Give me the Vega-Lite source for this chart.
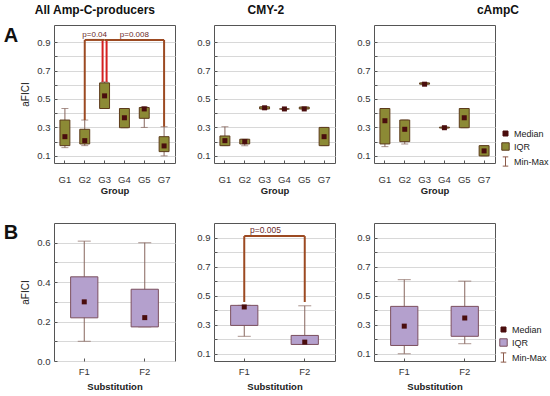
{
  "$schema": "https://vega.github.io/schema/vega-lite/v6.json",
  "padding": {"left": 3, "top": 3, "right": 0, "bottom": 0},
  "spacing": 26,
  "datasets": {
    "A1": [
      {"g": "G1", "min": 0.158, "q1": 0.172, "med": 0.235, "q3": 0.352, "max": 0.433},
      {"g": "G2", "min": 0.172, "q1": 0.184, "med": 0.207, "q3": 0.287, "max": 0.352},
      {"g": "G3", "min": 0.433, "q1": 0.433, "med": 0.522, "q3": 0.613, "max": 0.62},
      {"g": "G4", "min": 0.298, "q1": 0.298, "med": 0.368, "q3": 0.433, "max": 0.433},
      {"g": "G5", "min": 0.3, "q1": 0.364, "med": 0.43, "q3": 0.44, "max": 0.445},
      {"g": "G7", "min": 0.1, "q1": 0.13, "med": 0.17, "q3": 0.235, "max": 0.305}
    ],
    "A2": [
      {"g": "G1", "min": 0.172, "q1": 0.172, "med": 0.207, "q3": 0.24, "max": 0.305},
      {"g": "G2", "min": 0.172, "q1": 0.184, "med": 0.2, "q3": 0.217, "max": 0.217},
      {"g": "G3", "min": 0.43, "q1": 0.43, "med": 0.438, "q3": 0.445, "max": 0.445},
      {"g": "G4", "min": 0.43, "q1": 0.43, "med": 0.43, "q3": 0.43, "max": 0.43},
      {"g": "G5", "min": 0.43, "q1": 0.43, "med": 0.43, "q3": 0.443, "max": 0.443},
      {"g": "G7", "min": 0.172, "q1": 0.172, "med": 0.235, "q3": 0.3, "max": 0.3}
    ],
    "A3": [
      {"g": "G1", "min": 0.165, "q1": 0.184, "med": 0.347, "q3": 0.433, "max": 0.433},
      {"g": "G2", "min": 0.184, "q1": 0.2, "med": 0.287, "q3": 0.352, "max": 0.352},
      {"g": "G3", "min": 0.604, "q1": 0.604, "med": 0.604, "q3": 0.613, "max": 0.613},
      {"g": "G4", "min": 0.296, "q1": 0.296, "med": 0.298, "q3": 0.302, "max": 0.302},
      {"g": "G5", "min": 0.298, "q1": 0.298, "med": 0.368, "q3": 0.433, "max": 0.433},
      {"g": "G7", "min": 0.1, "q1": 0.1, "med": 0.135, "q3": 0.172, "max": 0.172}
    ],
    "B1": [
      {"g": "F1", "min": 0.1, "q1": 0.219, "med": 0.3, "q3": 0.427, "max": 0.608},
      {"g": "F2", "min": 0.173, "q1": 0.173, "med": 0.22, "q3": 0.364, "max": 0.6}
    ],
    "B2": [
      {"g": "F1", "min": 0.22, "q1": 0.295, "med": 0.422, "q3": 0.433, "max": 0.433},
      {"g": "F2", "min": 0.164, "q1": 0.164, "med": 0.18, "q3": 0.226, "max": 0.43}
    ],
    "B3": [
      {"g": "F1", "min": 0.1, "q1": 0.157, "med": 0.29, "q3": 0.426, "max": 0.61},
      {"g": "F2", "min": 0.169, "q1": 0.22, "med": 0.346, "q3": 0.426, "max": 0.6}
    ],
    "A1legs": [
      {"g": "G2", "y": 0.352, "y2": 0.915},
      {"g": "G7", "y": 0.305, "y2": 0.915}
    ],
    "A1red": [
      {"g": "G3", "y": 0.62, "y2": 0.915}
    ],
    "A1bars": [
      {"g": "G2", "g2": "G3", "y": 0.915},
      {"g": "G3", "g2": "G7", "y": 0.915}
    ],
    "A1text": [
      {"g": "G2", "y": 0.915, "t": "p=0.04"},
      {"g": "G4", "y": 0.915, "t": "p=0.008"}
    ],
    "B2legs": [
      {"g": "F1", "y": 0.456, "y2": 0.91},
      {"g": "F2", "y": 0.456, "y2": 0.91}
    ],
    "B2bars": [
      {"g": "F1", "g2": "F2", "y": 0.91}
    ],
    "B2text": [
      {"g": "F1", "y": 0.91, "t": "p=0.005"}
    ],
    "keysA": [{"kA": "Median"}, {"kA": "IQR"}, {"kA": "Min-Max"}],
    "keysB": [{"kB": "Median"}, {"kB": "IQR"}, {"kB": "Min-Max"}]
  },
  "resolve": {"scale": {"fill": "independent", "stroke": "independent", "shape": "independent", "size": "independent"}},
  "vconcat": [
    {
      "title": {"text": "A", "orient": "left", "anchor": "end", "angle": 0, "fontSize": 20, "fontWeight": "bold", "baseline": "top", "align": "left", "offset": 2, "dy": 22, "color": "#111"},
      "spacing": 20,
      "resolve": {"scale": {"fill": "independent", "stroke": "independent", "shape": "independent", "size": "independent"}},
      "hconcat": [
        {
          "width": 121, "height": 138,
          "title": {"text": "All Amp-C-producers", "dx": -3},
          "encoding": {
            "x": {"field": "g", "type": "nominal", "title": "Group",
              "scale": {"domain": ["G1", "G2", "G3", "G4", "G5", "G7"], "paddingInner": 0, "paddingOuter": 0.05},
              "axis": {"labelAngle": 0, "labelPadding": 14, "titlePadding": 2}}
          },
          "layer": [
            {"data": {"name": "A1"}, "mark": {"type": "rule", "color": "#86655c", "strokeWidth": 1},
              "encoding": {"y": {"field": "min", "type": "quantitative", "title": "aFICI",
                "scale": {"domain": [0.05, 1.02], "nice": false, "zero": false},
                "axis": {"values": [0.1, 0.2, 0.3, 0.4, 0.5, 0.6, 0.7, 0.8, 0.9], "tickCount": 20, "format": ".1f", "labelOverlap": false, "labelExpr": "indexof(['0.1','0.3','0.5','0.7','0.9'], datum.label) >= 0 ? datum.label : ''", "titlePadding": 6}},
                "y2": {"field": "max"}}},
            {"data": {"name": "A1"}, "mark": {"type": "tick", "color": "#86655c", "thickness": 1, "size": 7}, "encoding": {"y": {"field": "min", "type": "quantitative"}}},
            {"data": {"name": "A1"}, "mark": {"type": "tick", "color": "#86655c", "thickness": 1, "size": 7}, "encoding": {"y": {"field": "max", "type": "quantitative"}}},
            {"data": {"name": "A1"}, "mark": {"type": "bar", "width": {"band": 0.5}, "fill": "#8c8a35", "stroke": "#5b3a1a", "strokeWidth": 1},
              "encoding": {"y": {"field": "q1", "type": "quantitative"}, "y2": {"field": "q3"}}},
            {"data": {"name": "A1"}, "mark": {"type": "point", "shape": "square", "filled": true, "size": 25, "color": "#4a0d0d", "opacity": 1},
              "encoding": {"y": {"field": "med", "type": "quantitative"}}},
            {"data": {"name": "A1legs"}, "mark": {"type": "rule", "color": "#9c4a22", "strokeWidth": 2},
              "encoding": {"y": {"field": "y", "type": "quantitative"}, "y2": {"field": "y2"}}},
            {"data": {"name": "A1red"}, "mark": {"type": "rule", "color": "#d42020", "strokeWidth": 2, "xOffset": -2},
              "encoding": {"y": {"field": "y", "type": "quantitative"}, "y2": {"field": "y2"}}},
            {"data": {"name": "A1red"}, "mark": {"type": "rule", "color": "#d42020", "strokeWidth": 2, "xOffset": 2},
              "encoding": {"y": {"field": "y", "type": "quantitative"}, "y2": {"field": "y2"}}},
            {"data": {"name": "A1bars"}, "mark": {"type": "rule", "color": "#9c4a22", "strokeWidth": 2},
              "encoding": {"x2": {"field": "g2"}, "y": {"field": "y", "type": "quantitative"}}},
            {"data": {"name": "A1text"}, "mark": {"type": "text", "fontSize": 8, "color": "#6b2a2a", "baseline": "bottom", "dy": -1},
              "encoding": {"x": {"field": "g", "type": "nominal", "bandPosition": 1}, "y": {"field": "y", "type": "quantitative"}, "text": {"field": "t"}}}
          ]
        },
        {
          "width": 121, "height": 138,
          "title": {"text": "CMY-2"},
          "encoding": {
            "x": {"field": "g", "type": "nominal", "title": "Group",
              "scale": {"domain": ["G1", "G2", "G3", "G4", "G5", "G7"], "paddingInner": 0, "paddingOuter": 0.05},
              "axis": {"labelAngle": 0, "labelPadding": 14, "titlePadding": 2}}
          },
          "layer": [
            {"data": {"name": "A2"}, "mark": {"type": "rule", "color": "#86655c", "strokeWidth": 1},
              "encoding": {"y": {"field": "min", "type": "quantitative", "title": null,
                "scale": {"domain": [0.05, 1.02], "nice": false, "zero": false},
                "axis": {"values": [0.1, 0.2, 0.3, 0.4, 0.5, 0.6, 0.7, 0.8, 0.9], "tickCount": 20, "format": ".1f", "labelOverlap": false, "labelExpr": "indexof(['0.1','0.3','0.5','0.7','0.9'], datum.label) >= 0 ? datum.label : ''"}},
                "y2": {"field": "max"}}},
            {"data": {"name": "A2"}, "mark": {"type": "tick", "color": "#86655c", "thickness": 1, "size": 7}, "encoding": {"y": {"field": "min", "type": "quantitative"}}},
            {"data": {"name": "A2"}, "mark": {"type": "tick", "color": "#86655c", "thickness": 1, "size": 7}, "encoding": {"y": {"field": "max", "type": "quantitative"}}},
            {"data": {"name": "A2"}, "mark": {"type": "bar", "width": {"band": 0.5}, "fill": "#8c8a35", "stroke": "#5b3a1a", "strokeWidth": 1},
              "encoding": {"y": {"field": "q1", "type": "quantitative"}, "y2": {"field": "q3"}}},
            {"data": {"name": "A2"}, "mark": {"type": "point", "shape": "square", "filled": true, "size": 25, "color": "#4a0d0d", "opacity": 1},
              "encoding": {"y": {"field": "med", "type": "quantitative"}}}
          ]
        },
        {
          "width": 121, "height": 138,
          "title": {"text": "cAmpC", "dx": 45},
          "encoding": {
            "x": {"field": "g", "type": "nominal", "title": "Group",
              "scale": {"domain": ["G1", "G2", "G3", "G4", "G5", "G7"], "paddingInner": 0, "paddingOuter": 0.05},
              "axis": {"labelAngle": 0, "labelPadding": 14, "titlePadding": 2}}
          },
          "layer": [
            {"data": {"name": "A3"}, "mark": {"type": "rule", "color": "#86655c", "strokeWidth": 1},
              "encoding": {"y": {"field": "min", "type": "quantitative", "title": null,
                "scale": {"domain": [0.05, 1.02], "nice": false, "zero": false},
                "axis": {"values": [0.1, 0.2, 0.3, 0.4, 0.5, 0.6, 0.7, 0.8, 0.9], "tickCount": 20, "format": ".1f", "labelOverlap": false, "labelExpr": "indexof(['0.1','0.3','0.5','0.7','0.9'], datum.label) >= 0 ? datum.label : ''"}},
                "y2": {"field": "max"}}},
            {"data": {"name": "A3"}, "mark": {"type": "tick", "color": "#86655c", "thickness": 1, "size": 7}, "encoding": {"y": {"field": "min", "type": "quantitative"}}},
            {"data": {"name": "A3"}, "mark": {"type": "tick", "color": "#86655c", "thickness": 1, "size": 7}, "encoding": {"y": {"field": "max", "type": "quantitative"}}},
            {"data": {"name": "A3"}, "mark": {"type": "bar", "width": {"band": 0.5}, "fill": "#8c8a35", "stroke": "#5b3a1a", "strokeWidth": 1},
              "encoding": {"y": {"field": "q1", "type": "quantitative"}, "y2": {"field": "q3"}}},
            {"data": {"name": "A3"}, "mark": {"type": "point", "shape": "square", "filled": true, "size": 25, "color": "#4a0d0d", "opacity": 1},
              "encoding": {"y": {"field": "med", "type": "quantitative"}}},
            {"data": {"name": "keysA"}, "transform": [{"filter": "false"}],
              "mark": {"type": "point", "filled": true, "strokeWidth": 1, "opacity": 1},
              "encoding": {
                "x": {"value": 0},
                "fill": {"field": "kA", "type": "nominal", "scale": {"domain": ["Median", "IQR", "Min-Max"], "range": ["#4a0d0d", "#8c8a35", "transparent"]},
                  "legend": {"title": null, "orient": "none", "legendX": 126, "legendY": 104, "labelFontSize": 9, "labelColor": "#222", "labelOffset": 3, "rowPadding": 1, "symbolStrokeWidth": 1, "symbolOpacity": 1}},
                "stroke": {"field": "kA", "type": "nominal", "scale": {"domain": ["Median", "IQR", "Min-Max"], "range": ["#4a0d0d", "#5b3a1a", "#8c5a4a"]},
                  "legend": {"title": null, "orient": "none", "legendX": 126, "legendY": 104, "labelFontSize": 9, "labelColor": "#222", "labelOffset": 3, "rowPadding": 1, "symbolStrokeWidth": 1, "symbolOpacity": 1}},
                "shape": {"field": "kA", "type": "nominal", "scale": {"domain": ["Median", "IQR", "Min-Max"], "range": ["square", "square", "M-0.6,-1H0.6M0,-1V1M-0.6,1H0.6"]},
                  "legend": {"title": null, "orient": "none", "legendX": 126, "legendY": 104, "labelFontSize": 9, "labelColor": "#222", "labelOffset": 3, "rowPadding": 1, "symbolStrokeWidth": 1, "symbolOpacity": 1}},
                "size": {"field": "kA", "type": "nominal", "scale": {"domain": ["Median", "IQR", "Min-Max"], "range": [25, 85, 90]},
                  "legend": {"title": null, "orient": "none", "legendX": 126, "legendY": 104, "labelFontSize": 9, "labelColor": "#222", "labelOffset": 3, "rowPadding": 1, "symbolStrokeWidth": 1, "symbolOpacity": 1}}
              }}
          ]
        }
      ]
    },
    {
      "title": {"text": "B", "orient": "left", "anchor": "end", "angle": 0, "fontSize": 20, "fontWeight": "bold", "baseline": "top", "align": "left", "offset": 2, "dy": 0, "color": "#111"},
      "spacing": 20,
      "resolve": {"scale": {"fill": "independent", "stroke": "independent", "shape": "independent", "size": "independent"}},
      "hconcat": [
        {
          "width": 121, "height": 138,
          "encoding": {
            "x": {"field": "g", "type": "nominal", "title": "Substitution",
              "scale": {"domain": ["F1", "F2"], "paddingInner": 0, "paddingOuter": 0},
              "axis": {"labelAngle": 0, "labelPadding": 8, "titlePadding": 6}}
          },
          "layer": [
            {"data": {"name": "B1"}, "mark": {"type": "rule", "color": "#86655c", "strokeWidth": 1},
              "encoding": {"y": {"field": "min", "type": "quantitative", "title": "aFICI",
                "scale": {"domain": [0, 0.7], "nice": false, "zero": false},
                "axis": {"values": [0, 0.1, 0.2, 0.3, 0.4, 0.5, 0.6], "tickCount": 20, "format": ".1f", "labelOverlap": false, "labelExpr": "indexof(['0.0','0.2','0.4','0.6'], datum.label) >= 0 ? datum.label : ''", "titlePadding": 6}},
                "y2": {"field": "max"}}},
            {"data": {"name": "B1"}, "mark": {"type": "tick", "color": "#86655c", "thickness": 1, "size": 13}, "encoding": {"y": {"field": "min", "type": "quantitative"}}},
            {"data": {"name": "B1"}, "mark": {"type": "tick", "color": "#86655c", "thickness": 1, "size": 13}, "encoding": {"y": {"field": "max", "type": "quantitative"}}},
            {"data": {"name": "B1"}, "mark": {"type": "bar", "width": {"band": 0.45}, "fill": "#b4a0cd", "stroke": "#7b4f5e", "strokeWidth": 1},
              "encoding": {"y": {"field": "q1", "type": "quantitative"}, "y2": {"field": "q3"}}},
            {"data": {"name": "B1"}, "mark": {"type": "point", "shape": "square", "filled": true, "size": 25, "color": "#4a0d0d", "opacity": 1},
              "encoding": {"y": {"field": "med", "type": "quantitative"}}}
          ]
        },
        {
          "width": 121, "height": 138,
          "encoding": {
            "x": {"field": "g", "type": "nominal", "title": "Substitution",
              "scale": {"domain": ["F1", "F2"], "paddingInner": 0, "paddingOuter": 0},
              "axis": {"labelAngle": 0, "labelPadding": 8, "titlePadding": 6}}
          },
          "layer": [
            {"data": {"name": "B2"}, "mark": {"type": "rule", "color": "#86655c", "strokeWidth": 1},
              "encoding": {"y": {"field": "min", "type": "quantitative", "title": null,
                "scale": {"domain": [0.05, 1.0], "nice": false, "zero": false},
                "axis": {"values": [0.1, 0.2, 0.3, 0.4, 0.5, 0.6, 0.7, 0.8, 0.9], "tickCount": 20, "format": ".1f", "labelOverlap": false, "labelExpr": "indexof(['0.1','0.3','0.5','0.7','0.9'], datum.label) >= 0 ? datum.label : ''"}},
                "y2": {"field": "max"}}},
            {"data": {"name": "B2"}, "mark": {"type": "tick", "color": "#86655c", "thickness": 1, "size": 13}, "encoding": {"y": {"field": "min", "type": "quantitative"}}},
            {"data": {"name": "B2"}, "mark": {"type": "tick", "color": "#86655c", "thickness": 1, "size": 13}, "encoding": {"y": {"field": "max", "type": "quantitative"}}},
            {"data": {"name": "B2"}, "mark": {"type": "bar", "width": {"band": 0.45}, "fill": "#b4a0cd", "stroke": "#7b4f5e", "strokeWidth": 1},
              "encoding": {"y": {"field": "q1", "type": "quantitative"}, "y2": {"field": "q3"}}},
            {"data": {"name": "B2"}, "mark": {"type": "point", "shape": "square", "filled": true, "size": 25, "color": "#4a0d0d", "opacity": 1},
              "encoding": {"y": {"field": "med", "type": "quantitative"}}},
            {"data": {"name": "B2legs"}, "mark": {"type": "rule", "color": "#9c4a22", "strokeWidth": 2},
              "encoding": {"y": {"field": "y", "type": "quantitative"}, "y2": {"field": "y2"}}},
            {"data": {"name": "B2bars"}, "mark": {"type": "rule", "color": "#9c4a22", "strokeWidth": 2},
              "encoding": {"x2": {"field": "g2"}, "y": {"field": "y", "type": "quantitative"}}},
            {"data": {"name": "B2text"}, "mark": {"type": "text", "fontSize": 8.5, "color": "#6b2a2a", "baseline": "bottom", "dy": -1},
              "encoding": {"x": {"field": "g", "type": "nominal", "bandPosition": 0.85}, "y": {"field": "y", "type": "quantitative"}, "text": {"field": "t"}}}
          ]
        },
        {
          "width": 121, "height": 138,
          "encoding": {
            "x": {"field": "g", "type": "nominal", "title": "Substitution",
              "scale": {"domain": ["F1", "F2"], "paddingInner": 0, "paddingOuter": 0},
              "axis": {"labelAngle": 0, "labelPadding": 8, "titlePadding": 6}}
          },
          "layer": [
            {"data": {"name": "B3"}, "mark": {"type": "rule", "color": "#86655c", "strokeWidth": 1},
              "encoding": {"y": {"field": "min", "type": "quantitative", "title": null,
                "scale": {"domain": [0.05, 1.0], "nice": false, "zero": false},
                "axis": {"values": [0.1, 0.2, 0.3, 0.4, 0.5, 0.6, 0.7, 0.8, 0.9], "tickCount": 20, "format": ".1f", "labelOverlap": false, "labelExpr": "indexof(['0.1','0.3','0.5','0.7','0.9'], datum.label) >= 0 ? datum.label : ''"}},
                "y2": {"field": "max"}}},
            {"data": {"name": "B3"}, "mark": {"type": "tick", "color": "#86655c", "thickness": 1, "size": 13}, "encoding": {"y": {"field": "min", "type": "quantitative"}}},
            {"data": {"name": "B3"}, "mark": {"type": "tick", "color": "#86655c", "thickness": 1, "size": 13}, "encoding": {"y": {"field": "max", "type": "quantitative"}}},
            {"data": {"name": "B3"}, "mark": {"type": "bar", "width": {"band": 0.45}, "fill": "#b4a0cd", "stroke": "#7b4f5e", "strokeWidth": 1},
              "encoding": {"y": {"field": "q1", "type": "quantitative"}, "y2": {"field": "q3"}}},
            {"data": {"name": "B3"}, "mark": {"type": "point", "shape": "square", "filled": true, "size": 25, "color": "#4a0d0d", "opacity": 1},
              "encoding": {"y": {"field": "med", "type": "quantitative"}}},
            {"data": {"name": "keysB"}, "transform": [{"filter": "false"}],
              "mark": {"type": "point", "filled": true, "strokeWidth": 1, "opacity": 1},
              "encoding": {
                "x": {"value": 0},
                "fill": {"field": "kB", "type": "nominal", "scale": {"domain": ["Median", "IQR", "Min-Max"], "range": ["#4a0d0d", "#b4a0cd", "transparent"]},
                  "legend": {"title": null, "orient": "none", "legendX": 124, "legendY": 102, "labelFontSize": 9, "labelColor": "#222", "labelOffset": 3, "rowPadding": 1, "symbolStrokeWidth": 1, "symbolOpacity": 1}},
                "stroke": {"field": "kB", "type": "nominal", "scale": {"domain": ["Median", "IQR", "Min-Max"], "range": ["#4a0d0d", "#7b4f5e", "#8c5a4a"]},
                  "legend": {"title": null, "orient": "none", "legendX": 124, "legendY": 102, "labelFontSize": 9, "labelColor": "#222", "labelOffset": 3, "rowPadding": 1, "symbolStrokeWidth": 1, "symbolOpacity": 1}},
                "shape": {"field": "kB", "type": "nominal", "scale": {"domain": ["Median", "IQR", "Min-Max"], "range": ["square", "square", "M-0.6,-1H0.6M0,-1V1M-0.6,1H0.6"]},
                  "legend": {"title": null, "orient": "none", "legendX": 124, "legendY": 102, "labelFontSize": 9, "labelColor": "#222", "labelOffset": 3, "rowPadding": 1, "symbolStrokeWidth": 1, "symbolOpacity": 1}},
                "size": {"field": "kB", "type": "nominal", "scale": {"domain": ["Median", "IQR", "Min-Max"], "range": [25, 85, 90]},
                  "legend": {"title": null, "orient": "none", "legendX": 124, "legendY": 102, "labelFontSize": 9, "labelColor": "#222", "labelOffset": 3, "rowPadding": 1, "symbolStrokeWidth": 1, "symbolOpacity": 1}}
              }}
          ]
        }
      ]
    }
  ],
  "config": {
    "font": "Liberation Sans",
    "view": {"stroke": "#555555", "strokeWidth": 1},
    "axis": {"domain": false, "ticks": true, "tickSize": -3, "tickColor": "#555555", "labelFontSize": 9.5, "labelColor": "#333333", "titleFontSize": 9.5, "titleFontWeight": "bold", "titleColor": "#222222", "gridColor": "#d8d8d8", "labelPadding": 7, "labelOverlap": false},
    "axisX": {"grid": false},
    "axisY": {"titleFontWeight": "normal", "titleFontSize": 10},
    "title": {"fontSize": 12, "fontWeight": "bold", "color": "#111111", "offset": 8, "frame": "bounds", "anchor": "middle"}
  }
}
